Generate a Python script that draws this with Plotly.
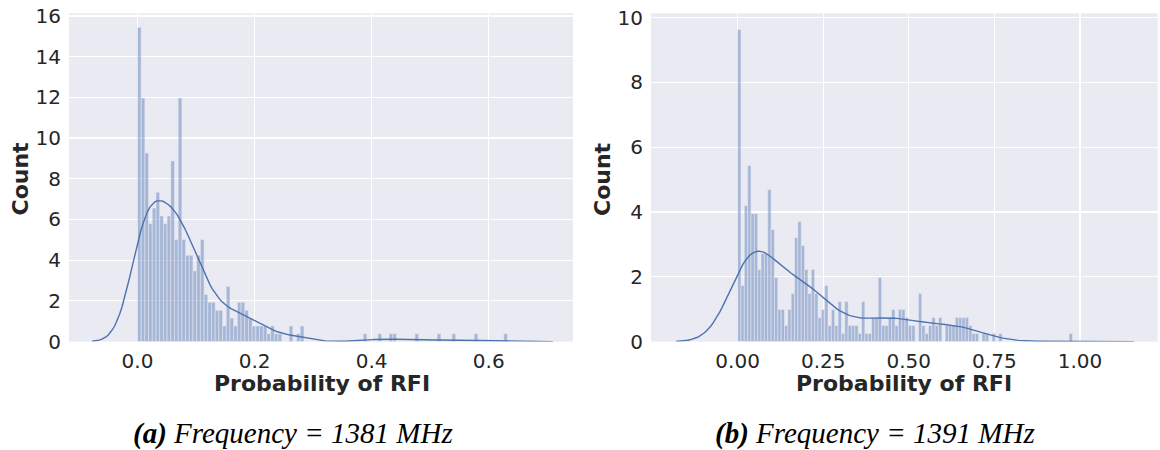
import numpy as np
import plotly.graph_objects as go

# ---------------- data ----------------
# Panel (a): 1381 MHz -- 100 equal bins on [0, max_a]
max_a = 0.632
counts_a = [40, 31, 24, 15, 17, 19, 16, 15, 16, 23,
            13, 31, 13, 11, 11, 9, 11, 13, 6, 5,
            5, 4, 4, 2, 7, 3, 2, 5, 5, 4,
            3, 2, 2, 2, 2, 1, 2, 1, 1, 0,
            0, 2, 0, 1, 2, 0, 0, 0, 0, 0,
            0, 0, 0, 0, 0, 0, 0, 0, 0, 0,
            0, 1, 0, 0, 0, 1, 0, 0, 1, 1,
            0, 0, 0, 0, 0, 1, 0, 0, 0, 0,
            0, 1, 0, 0, 0, 1, 0, 0, 0, 0,
            0, 1, 0, 0, 0, 0, 0, 0, 0, 1]

# Panel (b): 1391 MHz -- 100 equal bins on [0, max_b]
max_b = 0.978
counts_b = [39, 7, 17, 22, 16, 16, 9, 11, 11, 19,
            14, 8, 4, 4, 2, 4, 6, 13, 15, 12,
            9, 6, 9, 6, 3, 4, 7, 2, 4, 2,
            5, 1, 5, 2, 2, 2, 1, 5, 1, 1,
            3, 3, 8, 2, 2, 3, 4, 2, 4, 4,
            3, 2, 2, 0, 6, 2, 1, 2, 3, 2,
            3, 0, 2, 2, 2, 3, 3, 3, 3, 2,
            1, 1, 0, 1, 1, 0, 1, 0, 1, 0,
            0, 0, 0, 0, 0, 0, 0, 0, 0, 0,
            0, 0, 0, 0, 0, 0, 0, 0, 0, 1]

xticks_a = [0.0, 0.2, 0.4, 0.6]
xticks_b = [0.0, 0.25, 0.5, 0.75, 1.0]
yticks_a = [0, 2, 4, 6, 8, 10, 12, 14, 16]
yticks_b = [0, 2, 4, 6, 8, 10]
captions = ["<b>(a)</b> Frequency = 1381 MHz", "<b>(b)</b> Frequency = 1391 MHz"]

BAR = "rgba(76,114,176,0.43)"
LINE = "#4c72b0"
BG = "#eaeaf2"
TXT = "#262626"


def hist_kde(counts, xmax):
    counts = np.asarray(counts, dtype=float)
    nb = len(counts)
    w = xmax / nb
    centers = (np.arange(nb) + 0.5) * w
    n = counts.sum()
    dens = counts / (n * w)
    mean = (counts * centers).sum() / n
    std = np.sqrt((counts * (centers - mean) ** 2).sum() / (n - 1))
    bw = std * n ** (-0.2)
    grid = np.linspace(0 - 3 * bw, xmax + 3 * bw, 200)
    k = np.exp(-0.5 * ((grid[:, None] - centers[None, :]) / bw) ** 2) / (bw * np.sqrt(2 * np.pi))
    kde = (k * counts[None, :]).sum(axis=1) / n
    return centers, dens, w, grid, kde


fig = go.Figure()
for idx, (counts, xmax) in enumerate([(counts_a, max_a), (counts_b, max_b)]):
    c, d, w, g, kd = hist_kde(counts, xmax)
    xa = "x" if idx == 0 else "x2"
    ya = "y" if idx == 0 else "y2"
    fig.add_trace(go.Bar(x=c, y=d, width=w, marker=dict(color=BAR, line=dict(color="rgba(234,234,242,0.9)", width=0.6)),
                         xaxis=xa, yaxis=ya, showlegend=False, hoverinfo="skip"))
    fig.add_trace(go.Scatter(x=g, y=kd, mode="lines", line=dict(color=LINE, width=1.4),
                             xaxis=xa, yaxis=ya, showlegend=False, hoverinfo="skip"))

ydom = [1 - 341.6 / 450, 1 - 13.3 / 450]
axis_common = dict(showgrid=True, gridcolor="white", gridwidth=1.2, zeroline=False, showline=False,
                   automargin=False, ticks="", tickfont=dict(family="DejaVu Sans", size=20, color=TXT))

fig.update_layout(
    width=1160, height=450, margin=dict(l=0, r=0, t=0, b=0, autoexpand=False),
    paper_bgcolor="white", plot_bgcolor=BG, bargap=0,
    xaxis=dict(domain=[69 / 1160, 573 / 1160], range=[-0.117, 0.744], tickvals=xticks_a,
               ticktext=[f"{v:.1f}" for v in xticks_a], anchor="y", ticklabelstandoff=5, **axis_common),
    yaxis=dict(domain=ydom, range=[0, 16.13], tickvals=yticks_a, anchor="x", ticklabelstandoff=7, **axis_common),
    xaxis2=dict(domain=[651 / 1160, 1157.7 / 1160], range=[-0.253, 1.227], tickvals=xticks_b,
                ticktext=[f"{v:.2f}" for v in xticks_b], anchor="y2", ticklabelstandoff=5, **axis_common),
    yaxis2=dict(domain=ydom, range=[0, 10.13], tickvals=yticks_b, anchor="x2", ticklabelstandoff=7, **axis_common),
)

title_font = dict(family="DejaVu Sans", size=22, color=TXT)
anns = []
for cx in [322, 904]:
    anns.append(dict(text="<b>Probability of RFI</b>", x=cx / 1160, y=1 - 383 / 450, xref="paper", yref="paper",
                     showarrow=False, font=title_font, xanchor="center", yanchor="middle"))
for cx in [19.5, 602]:
    anns.append(dict(text="<b>Count</b>", x=cx / 1160, y=1 - 179 / 450, xref="paper", yref="paper",
                     showarrow=False, font=title_font, textangle=-90, xanchor="center", yanchor="middle"))
for cx, txt in zip([293, 875], captions):
    anns.append(dict(text=f"<i>{txt}</i>", x=cx / 1160, y=1 - 433 / 450, xref="paper", yref="paper",
                     showarrow=False, font=dict(family="Liberation Serif", size=29, color="black"),
                     xanchor="center", yanchor="middle"))
fig.update_layout(annotations=anns)

fig.write_html("out.html", config={"displayModeBar": False, "staticPlot": True},
               post_script="document.body.style.margin='0';document.body.style.overflow='hidden';")
